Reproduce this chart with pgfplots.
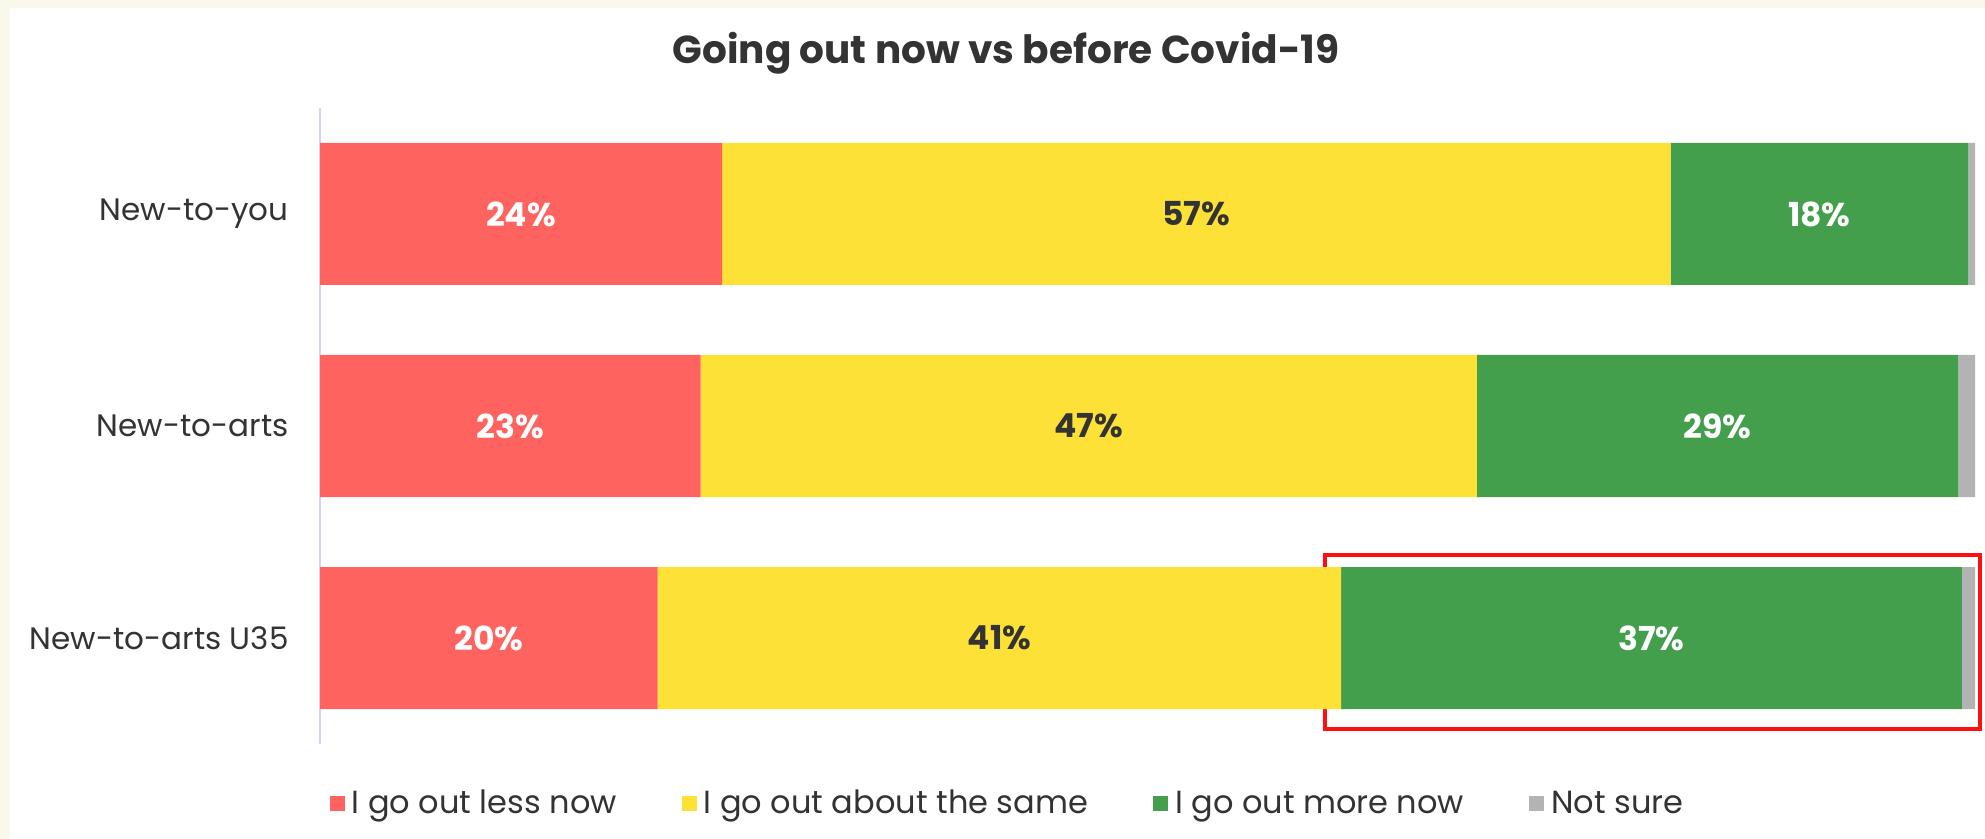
\documentclass[border=0pt]{standalone}
\usepackage{pgfplots}
\pgfplotsset{compat=1.18}
\usepackage{pgfplotstable}
\usepackage{fontspec}
\setmainfont{Poppins}
\definecolor{cred}{HTML}{FF6360}
\definecolor{cyellow}{HTML}{FEE136}
\definecolor{cgreen}{HTML}{449F4D}
\definecolor{cgrey}{HTML}{B3B3B3}
\definecolor{lavender}{HTML}{D8D0F4}
\definecolor{cream}{HTML}{FAF8EA}
\definecolor{ctext}{HTML}{333333}
\definecolor{cbox}{HTML}{FF1010}

\pgfplotstableread{
y less same more notsure lless lsame lmore
1 24.3 57.3 18.0 0.4 24 57 18
2 23.0 46.9 29.1 1.0 23 47 29
3 20.4 41.3 37.5 0.8 20 41 37
}\data

\begin{document}
\begin{tikzpicture}
\fill[cream] (0,0) rectangle (992.5pt,419.5pt);
\fill[white] (5pt,0) rectangle (992.5pt,415.5pt);
\node[font=\fontsize{19.5}{22}\selectfont\bfseries, text=ctext] at (503pt,393pt) {Going out now vs before Covid-19};
\begin{axis}[
  at={(160pt,47.5pt)}, anchor=south west,
  scale only axis, width=827.5pt, height=318pt,
  xbar stacked, bar width=71pt,
  xmin=0, xmax=100, ymin=0.5, ymax=3.5, y dir=reverse,
  axis x line=none, axis y line*=left,
  y axis line style={draw=lavender, line width=1pt, -},
  ytick={1,2,3}, yticklabels={New-to-you,New-to-arts,New-to-arts U35},
  major tick length=0pt,
  yticklabel style={font=\fontsize{15.5}{18}\selectfont, text=ctext, inner sep=0pt, xshift=-15.5pt},
  clip=false,
  point meta=explicit symbolic,
  legend columns=4,
  legend image code/.code={\fill[#1] (0pt,-3.75pt) rectangle (7.5pt,3.75pt); \path (9pt,0pt);},
  legend style={at={(0.416,-0.0935)}, anchor=center, draw=none, fill=none,
    font=\fontsize{16}{18}\selectfont, text=ctext,
    /tikz/every even column/.append style={column sep=30.5pt}},
]
\addplot[fill=cred, draw=none,
  nodes near coords={\pgfplotspointmeta\%},
  every node near coord/.append style={anchor=center, text=white, font=\fontsize{16.5}{18}\selectfont\bfseries}]
  table[x=less, y=y, meta=lless] {\data};
\addlegendentry{I go out less now}
\addplot[fill=cyellow, draw=none,
  nodes near coords={\pgfplotspointmeta\%},
  every node near coord/.append style={anchor=center, text=ctext, font=\fontsize{16.5}{18}\selectfont\bfseries}]
  table[x=same, y=y, meta=lsame] {\data};
\addlegendentry{I go out about the same}
\addplot[fill=cgreen, draw=none,
  nodes near coords={\pgfplotspointmeta\%},
  every node near coord/.append style={anchor=center, text=white, font=\fontsize{16.5}{18}\selectfont\bfseries}]
  table[x=more, y=y, meta=lmore] {\data};
\addlegendentry{I go out more now}
\addplot[fill=cgrey, draw=none]
  table[x=notsure, y=y] {\data};
\addlegendentry{Not sure}
\draw[cbox, line width=2pt] (axis cs:60.7,2.608) rectangle (axis cs:100.3,3.429);
\end{axis}
\end{tikzpicture}
\end{document}
